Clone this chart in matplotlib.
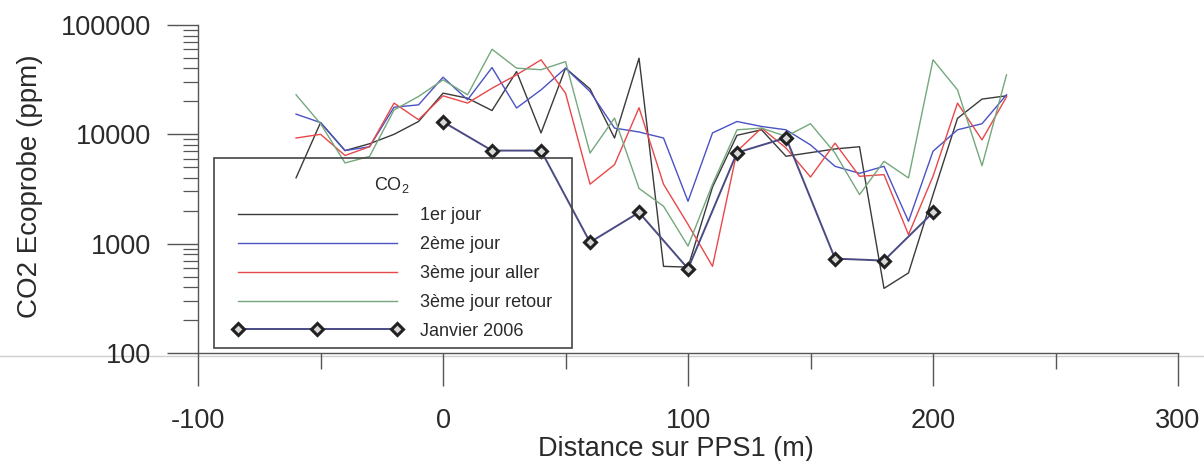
import numpy as np
import matplotlib
matplotlib.use("Agg")
import matplotlib.pyplot as plt
from matplotlib.ticker import FixedLocator, FixedFormatter, LogLocator, NullFormatter, MultipleLocator
from matplotlib.lines import Line2D
from matplotlib.patches import Rectangle

plt.rcParams["font.family"] = ["Liberation Sans", "DejaVu Sans"]
plt.rcParams["mathtext.fontset"] = "custom"
plt.rcParams["mathtext.rm"] = "Liberation Sans"
plt.rcParams["mathtext.it"] = "Liberation Sans:italic"
plt.rcParams["axes.unicode_minus"] = False

# distances (m) of the survey points
dist = [-60, -50, -40, -30, -20, -10, 0, 10, 20, 30, 40, 50, 60, 70, 80,
        90, 100, 110, 120, 130, 140, 150, 160, 170, 180, 190, 200, 210, 220, 230]

jour1 = [4000, 12800, 7100, 8200, 10000, 13100, 23800, 21400, 16500, 37500,
         10300, 40300, 26000, 9250, 49700, 620, 610, 3300, 9800, 11000,
         6300, 6800, 7350, 7700, 390, 540, 2800, 14000, 21000, 22500]
jour2 = [15300, 12800, 7100, 7700, 17700, 18600, 33300, 20700, 40800, 17400,
         25500, 40300, 24600, 11400, 10500, 9250, 2440, 10300, 13100, 11800,
         11000, 8000, 5100, 4400, 5100, 1600, 7000, 11000, 12500, 23000]
jour3_aller = [9250, 10000, 6400, 7700, 19300, 13600, 22500, 19300, 26400, 35000,
               48000, 23800, 3500, 5280, 17500, 3500, 1500, 620, 7000, 11400,
               7500, 4070, 8300, 4130, 4280, 1210, 4130, 19300, 8900, 22000]
jour3_retour = [23000, 12500, 5470, 6280, 16700, 22200, 31500, 23000, 60000, 40300,
                39000, 46200, 6740, 14100, 3200, 2200, 950, 3500, 11000, 11400,
                9570, 12500, 6740, 2810, 5660, 3990, 48000, 25500, 5160, 35000]

dist_2006 = [0, 20, 40, 60, 80, 100, 120, 140, 160, 180, 200]
janv_2006 = [13000, 7100, 7100, 1030, 1930, 590, 6800, 9300, 730, 700, 1930]

ytick_vals = [100, 1000, 10000, 100000]
ytick_labels = ["100", "1000", "10000", "100000"]

fig = plt.figure(figsize=(12.04, 4.61), dpi=100)
# faint scan line across the page
fig.add_artist(Line2D([0, 1], [0.228, 0.228], color="#cfcfcf", lw=1.0, zorder=0))

ax = fig.add_axes([0.1645, 0.2343, 0.8139, 0.7115])
ax.patch.set_alpha(0)

ax.plot(dist, jour1, color="#3a3a3a", lw=1.0, label="1er jour")
ax.plot(dist, jour2, color="#4a52c4", lw=1.0, label="2ème jour")
ax.plot(dist, jour3_aller, color="#e8484a", lw=1.0, label="3ème jour aller")
ax.plot(dist, jour3_retour, color="#74a87c", lw=1.0, label="3ème jour retour")
ax.plot(dist_2006, janv_2006, color="#4b4b84", lw=1.4, marker="D", ms=6.5,
        mfc="#d8d8d8", mec="#222222", mew=2.2, label="Janvier 2006")

ax.set_yscale("log")
ax.set_xlim(-100, 300)
ax.set_ylim(100, 100000)

ax.xaxis.set_major_locator(MultipleLocator(100))
ax.xaxis.set_minor_locator(MultipleLocator(50))
ax.yaxis.set_major_locator(FixedLocator(ytick_vals))
ax.yaxis.set_major_formatter(FixedFormatter(ytick_labels))
ax.yaxis.set_minor_locator(LogLocator(base=10, subs=np.arange(2, 10)))
ax.yaxis.set_minor_formatter(NullFormatter())

for s in ["top", "right"]:
    ax.spines[s].set_visible(False)
for s in ["left", "bottom"]:
    ax.spines[s].set_color("#555555")
    ax.spines[s].set_linewidth(1.0)

ax.tick_params(axis="x", which="major", direction="out", length=23.5, width=1.0,
               color="#555555", labelsize=19.5, labelcolor="#2a2a2a", pad=16)
ax.tick_params(axis="x", which="minor", direction="out", length=11.5, width=1.0, color="#555555")
ax.tick_params(axis="y", which="major", direction="out", length=22.5, width=1.0,
               color="#555555", labelsize=19.5, labelcolor="#2a2a2a", pad=11)
ax.tick_params(axis="y", which="minor", direction="out", length=11, width=0.9, color="#555555")

ax.set_xlabel("Distance sur PPS1 (m)", fontsize=19.5, color="#2a2a2a", va="top")
ax.xaxis.set_label_coords(0.488, -0.252)
ax.set_ylabel("CO2 Ecoprobe (ppm)", fontsize=20, color="#2a2a2a")
ax.yaxis.set_label_coords(-0.158, 0.51)

# legend box drawn by hand, the legend itself is transparent
ax.add_patch(Rectangle((0.0163, 0.0152), 0.3653, 0.579, transform=ax.transAxes,
                       fill=False, edgecolor="#444444", lw=1.2, clip_on=False, zorder=5))
leg = ax.legend(title="CO$_2$", loc="upper left", bbox_to_anchor=(0.0276, 0.564),
                borderaxespad=0, fontsize=13, title_fontsize=13, numpoints=3,
                handlelength=9.4, handletextpad=1.0, labelspacing=0.66,
                borderpad=0.4, frameon=False)
for t in leg.get_texts():
    t.set_color("#2a2a2a")
leg.get_title().set_color("#2a2a2a")

fig.savefig("out.png", dpi=100)
